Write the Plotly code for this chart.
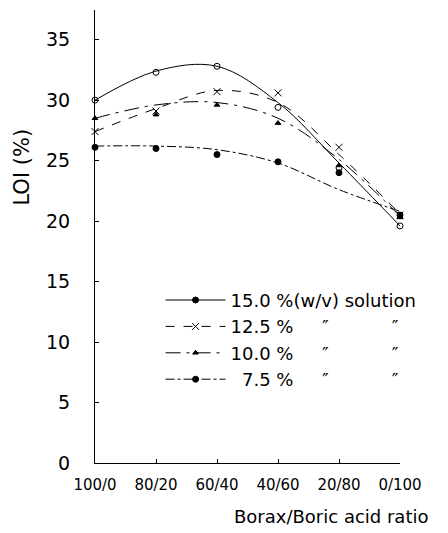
import plotly.graph_objects as go

categories = ["100/0", "80/20", "60/40", "40/60", "20/80", "0/100"]
xpos = [0, 1, 2, 3, 4, 5]

# measured points
p150 = [30.0, 32.3, 32.8, 29.4, 24.4, 19.6]
p125 = [27.4, 29.1, 30.7, 30.6, 26.1, 20.5]
p100 = [28.5, 28.8, 29.6, 28.1, 24.6, 20.3]
p075 = [26.1, 26.0, 25.5, 24.9, 24.0, 20.5]

# fitted curves (read at each category)
c150 = [30.0, 32.4, 32.8, 29.8, 24.8, 19.6]
c125 = [27.4, 29.3, 30.8, 29.8, 25.5, 20.6]
c100 = [28.5, 29.6, 29.8, 28.5, 25.1, 20.4]
c075 = [26.2, 26.2, 25.9, 24.8, 22.6, 20.8]

NB = "\u00a0"
labels = [
    "15.0" + NB + "%(w/v)" + NB + "solution",
    "12.5" + NB + "%" + NB * 5 + "\u2033" + NB * 11 + "\u2033",
    "10.0" + NB + "%" + NB * 5 + "\u2033" + NB * 11 + "\u2033",
    NB * 2 + "7.5" + NB + "%" + NB * 5 + "\u2033" + NB * 11 + "\u2033",
]

series = [
    (p150, c150, "solid", "circle-open", "circle", 6),
    (p125, c125, "dash", "x-thin-open", "x-thin-open", 7),
    (p100, c100, "longdashdot", "triangle-up", "triangle-up", 5),
    (p075, c075, "dashdot", "circle", "circle", 6),
]

FONT = "DejaVu Sans, Liberation Sans, sans-serif"
fig = go.Figure()
for (pts, crv, dash, sym, lsym, ms), lab in zip(series, labels):
    fig.add_trace(go.Scatter(x=xpos, y=crv, mode="lines", line=dict(color="black", width=1, dash=dash, shape="spline", smoothing=1.0),
                             showlegend=False, cliponaxis=False, hoverinfo="skip"))
    fig.add_trace(go.Scatter(x=xpos, y=pts, mode="markers",
                             marker=dict(symbol=sym, size=ms, color="black", line=dict(color="black", width=1)),
                             showlegend=False, cliponaxis=False))
    fig.add_trace(go.Scatter(x=[None], y=[None], mode="lines+markers", name=lab,
                             line=dict(color="black", width=1, dash=dash),
                             marker=dict(symbol=lsym, size=ms, color="black", line=dict(color="black", width=1))))

fig.update_layout(
    width=448, height=533,
    margin=dict(l=95, r=48, t=10, b=70),
    paper_bgcolor="white", plot_bgcolor="white",
    font=dict(family=FONT, size=17, color="black"),
    showlegend=True,
    legend=dict(x=0.215, y=0.40, xanchor="left", yanchor="top", bgcolor="rgba(0,0,0,0)",
                font=dict(size=18), itemwidth=60, tracegroupgap=0),
    xaxis=dict(range=[0, 5], tickvals=xpos, ticktext=categories, showgrid=False, zeroline=False,
               showline=True, linecolor="black", linewidth=1, ticks="inside", ticklen=4, tickcolor="black",
               tickfont=dict(size=15), ticklabelstandoff=8),
    yaxis=dict(range=[0, 37.45], tickvals=[0, 5, 10, 15, 20, 25, 30, 35], showgrid=False, zeroline=False,
               showline=True, linecolor="black", linewidth=1, ticks="inside", ticklen=4, tickcolor="black",
               tickfont=dict(size=19), ticklabelstandoff=20),
    annotations=[
        dict(text="Borax/Boric acid ratio", xref="paper", yref="paper", x=1.098, y=-0.119,
             xanchor="right", yanchor="middle", showarrow=False, font=dict(size=18)),
        dict(text="LOI (%)", xref="paper", yref="paper", x=-0.238, y=0.653, textangle=-90,
             xanchor="center", yanchor="middle", showarrow=False, font=dict(size=21)),
    ],
)

fig.write_html("out.html")
